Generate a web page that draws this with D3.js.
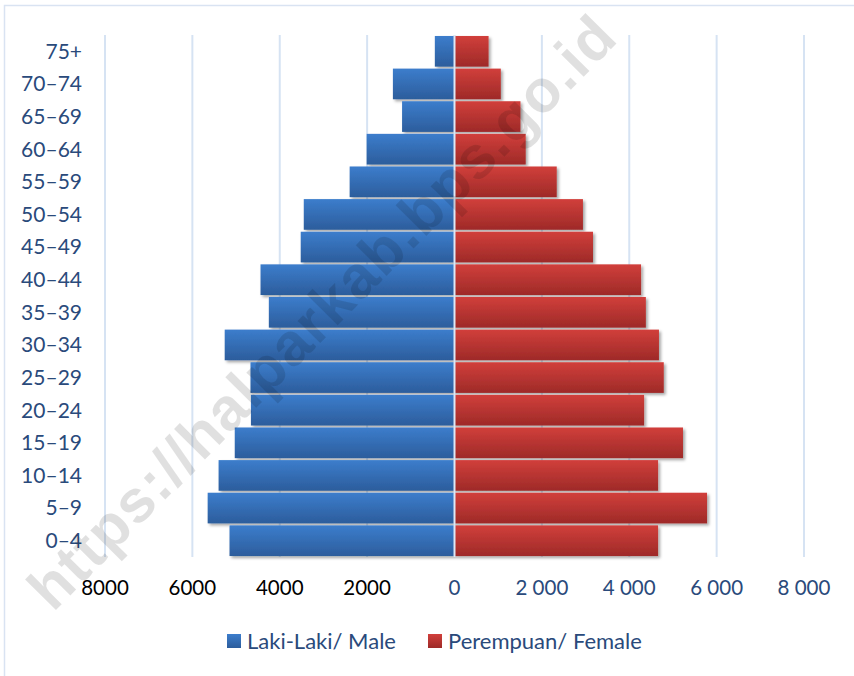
<!DOCTYPE html>
<html><head><meta charset="utf-8">
<script src="https://cdn.jsdelivr.net/npm/d3@7"></script>
<style>body{margin:0;background:#fff}svg{display:block}</style>
</head><body>
<svg id="c" width="854" height="676"></svg>
<script>
const categories = ["0–4","5–9","10–14","15–19","20–24","25–29","30–34","35–39","40–44","45–49","50–54","55–59","60–64","65–69","70–74","75+"];
const male   = [5150,5650,5400,5030,4660,4670,5260,4250,4440,3520,3450,2400,2010,1200,1410,450];
const female = [4660,5780,4660,5230,4340,4790,4680,4380,4270,3170,2940,2340,1630,1510,1060,780];
const leftTicks  = [-8000,-6000,-4000,-2000];
const rightTicks = [0,2000,4000,6000,8000];
const seriesNames = ["Laki-Laki/ Male","Perempuan/ Female"];
const watermark = "https://halparkab.bps.go.id";

const svg = d3.select("#c");
const font = "Lato, 'Open Sans', sans-serif";
const labelColor = "#2A4A7B";

const x = d3.scaleLinear().domain([-8000,8000]).range([105,804]);
const y = d3.scaleBand().domain(categories.slice().reverse()).range([35,557]).paddingInner(0.06).paddingOuter(0.03);

const defs = svg.append("defs");
const gB = defs.append("linearGradient").attr("id","gB").attr("x1",0).attr("y1",0).attr("x2",0).attr("y2",1);
gB.append("stop").attr("offset","0%").attr("stop-color","#3C7DCC");
gB.append("stop").attr("offset","100%").attr("stop-color","#2C5D9C");
const gR = defs.append("linearGradient").attr("id","gR").attr("x1",0).attr("y1",0).attr("x2",0).attr("y2",1);
gR.append("stop").attr("offset","0%").attr("stop-color","#D13F3B");
gR.append("stop").attr("offset","100%").attr("stop-color","#9E2A28");
const sh = defs.append("filter").attr("id","sh").attr("x","-10%").attr("y","-20%").attr("width","130%").attr("height","160%");
sh.append("feDropShadow").attr("dx",2).attr("dy",2).attr("stdDeviation",1.6).attr("flood-color","#000").attr("flood-opacity",0.35);

// chart border
svg.append("rect").attr("x",4.5).attr("y",5.5).attr("width",900).attr("height",700)
  .attr("fill","none").attr("stroke","#D9E3F2").attr("stroke-width",1.5);

// gridlines
const gridVals = leftTicks.concat(rightTicks);
svg.append("g").selectAll("line").data(gridVals).join("line")
  .attr("x1",d=>x(d)).attr("x2",d=>x(d)).attr("y1",35).attr("y2",557)
  .attr("stroke","#D6E3F3").attr("stroke-width",2);

// bars
const bars = svg.append("g").attr("filter","url(#sh)");
bars.selectAll("rect.m").data(categories).join("rect").attr("class","m")
  .attr("x",(d,i)=>x(-male[i])).attr("width",(d,i)=>x(0)-x(-male[i]))
  .attr("y",d=>y(d)).attr("height",y.bandwidth()).attr("fill","url(#gB)");
bars.selectAll("rect.f").data(categories).join("rect").attr("class","f")
  .attr("x",x(0)).attr("width",(d,i)=>x(female[i])-x(0))
  .attr("y",d=>y(d)).attr("height",y.bandwidth()).attr("fill","url(#gR)");

// zero line
svg.append("line").attr("x1",x(0)).attr("x2",x(0)).attr("y1",35).attr("y2",557)
  .attr("stroke","#DDE8F6").attr("stroke-width",2);

// category labels
svg.append("g").selectAll("text").data(categories).join("text")
  .attr("x",82).attr("y",d=>y(d)+y.bandwidth()/2).attr("dy","0.35em")
  .attr("text-anchor","end").attr("font-family",font).attr("font-size",21)
  .attr("fill",labelColor).text(d=>d);

// x tick labels
const fmtR = v => v===0 ? "0" : d3.format(",")(v).replace(/,/g," ");
svg.append("g").selectAll("text").data(leftTicks).join("text")
  .attr("x",d=>x(d)).attr("y",588).attr("dy","0.35em").attr("text-anchor","middle")
  .attr("font-family",font).attr("font-size",20.5).attr("fill","#000").text(d=>String(-d));
svg.append("g").selectAll("text").data(rightTicks).join("text")
  .attr("x",d=>x(d)).attr("y",588).attr("dy","0.35em").attr("text-anchor","middle")
  .attr("font-family",font).attr("font-size",20.5).attr("fill",labelColor).text(fmtR);

// legend
const leg = svg.append("g");
const legX = [227,428];
const legFill = ["url(#gB)","url(#gR)"];
seriesNames.forEach((n,i)=>{
  leg.append("rect").attr("x",legX[i]).attr("y",634).attr("width",14).attr("height",14).attr("fill",legFill[i]);
  leg.append("text").attr("x",legX[i]+20).attr("y",641).attr("dy","0.35em")
    .attr("font-family",font).attr("font-size",22).attr("fill",labelColor).text(n);
});

// watermark
svg.append("text").attr("transform","translate(53,613) rotate(-45.3)")
  .attr("font-family","'Liberation Sans', Arial, sans-serif").attr("font-weight","bold")
  .attr("font-size",60).attr("fill","#000").attr("fill-opacity",0.12)
  .attr("textLength",805).attr("lengthAdjust","spacing").text(watermark);
</script>
</body></html>
